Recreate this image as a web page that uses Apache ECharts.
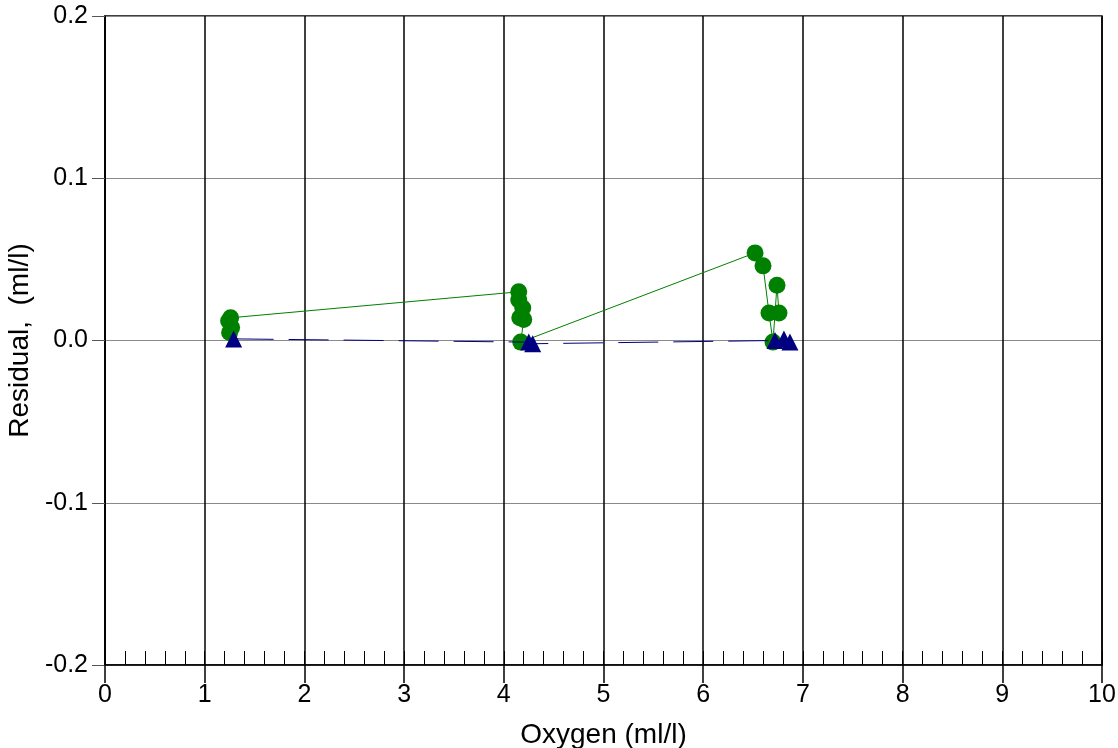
<!DOCTYPE html>
<html>
<head>
<meta charset="utf-8">
<script src="https://cdn.jsdelivr.net/npm/echarts@6/dist/echarts.min.js"></script>
<style>html,body{margin:0;padding:0;background:#fff;}#c{width:1118px;height:748px;}</style>
</head>
<body>
<div id="c"></div>
<script>
// Green circles series (Oxygen, Residual)
const greenX = [1.24, 1.25, 1.27, 1.26, 4.15, 4.15, 4.19, 4.16, 4.20, 4.17, 6.52, 6.60, 6.66, 6.70, 6.74, 6.76];
const greenY = [0.012, 0.005, 0.008, 0.014, 0.030, 0.025, 0.020, 0.014, 0.013, -0.001, 0.054, 0.046, 0.017, -0.001, 0.034, 0.017];
// Blue triangles series
const blueX = [1.29, 4.25, 4.29, 6.72, 6.81, 6.87];
const blueY = [0.001, -0.001, -0.002, 0.0, 0.001, -0.001];
// Axis ticks
const yTicks = ["-0.2", "-0.1", "0.0", "0.1", "0.2"];

const font = "'Liberation Sans', Arial, Helvetica, sans-serif";
const chart = echarts.init(document.getElementById('c'));
chart.setOption({
  animation: false,
  backgroundColor: '#fff',
  grid: {left: 105, right: 16, top: 16, bottom: 83, outerBoundsMode: 'none', containLabel: false,
    show: true, borderColor: '#000', borderWidth: 1.5, backgroundColor: 'transparent'},
  xAxis: [{
    type: 'value', min: 0, max: 10, interval: 1, position: 'bottom',
    name: 'Oxygen (ml/l)', nameLocation: 'middle', nameGap: 56,
    nameTextStyle: {color: '#000', fontSize: 28, fontFamily: font},
    axisLine: {show: true, onZero: false, lineStyle: {color: '#000', width: 1.5}},
    axisTick: {show: true, inside: false, length: 18, lineStyle: {color: '#000', width: 1.5}},
    axisLabel: {color: '#000', fontSize: 25, fontFamily: font, margin: 18},
    splitLine: {show: true, lineStyle: {color: '#000', width: 1.5}}
  }, {
    type: 'value', min: 0, max: 10, interval: 0.2, position: 'bottom',
    axisLine: {show: false, onZero: false},
    axisTick: {show: true, inside: true, length: 14, lineStyle: {color: '#000', width: 1}},
    axisLabel: {show: false},
    splitLine: {show: false}
  }],
  yAxis: {
    type: 'value', min: -0.2, max: 0.2, interval: 0.1,
    name: 'Residual,  (ml/l)', nameLocation: 'middle', nameGap: 70,
    nameTextStyle: {color: '#000', fontSize: 28, fontFamily: font},
    axisLine: {show: true, onZero: false, lineStyle: {color: '#000', width: 1.5}},
    axisTick: {show: true, inside: false, length: 13, lineStyle: {color: '#555', width: 1}},
    axisLabel: {color: '#000', fontSize: 25, fontFamily: font, margin: 17,
      formatter: v => yTicks[Math.round((v + 0.2) / 0.1)]},
    splitLine: {show: true, lineStyle: {color: '#8a8a8a', width: 1.2}}
  },
  series: [{
    type: 'line', xAxisIndex: 0,
    data: greenX.map((x, i) => [x, greenY[i]]),
    symbol: 'circle', symbolSize: 17,
    itemStyle: {color: '#008000'},
    lineStyle: {color: '#008000', width: 1},
    z: 3
  }, {
    type: 'line', xAxisIndex: 0,
    data: blueX.map((x, i) => [x, blueY[i]]),
    symbol: 'triangle', symbolSize: 17,
    itemStyle: {color: '#000080'},
    lineStyle: {color: '#000080', width: 1, type: [40, 15]},
    z: 4
  }]
});
</script>
</body>
</html>
